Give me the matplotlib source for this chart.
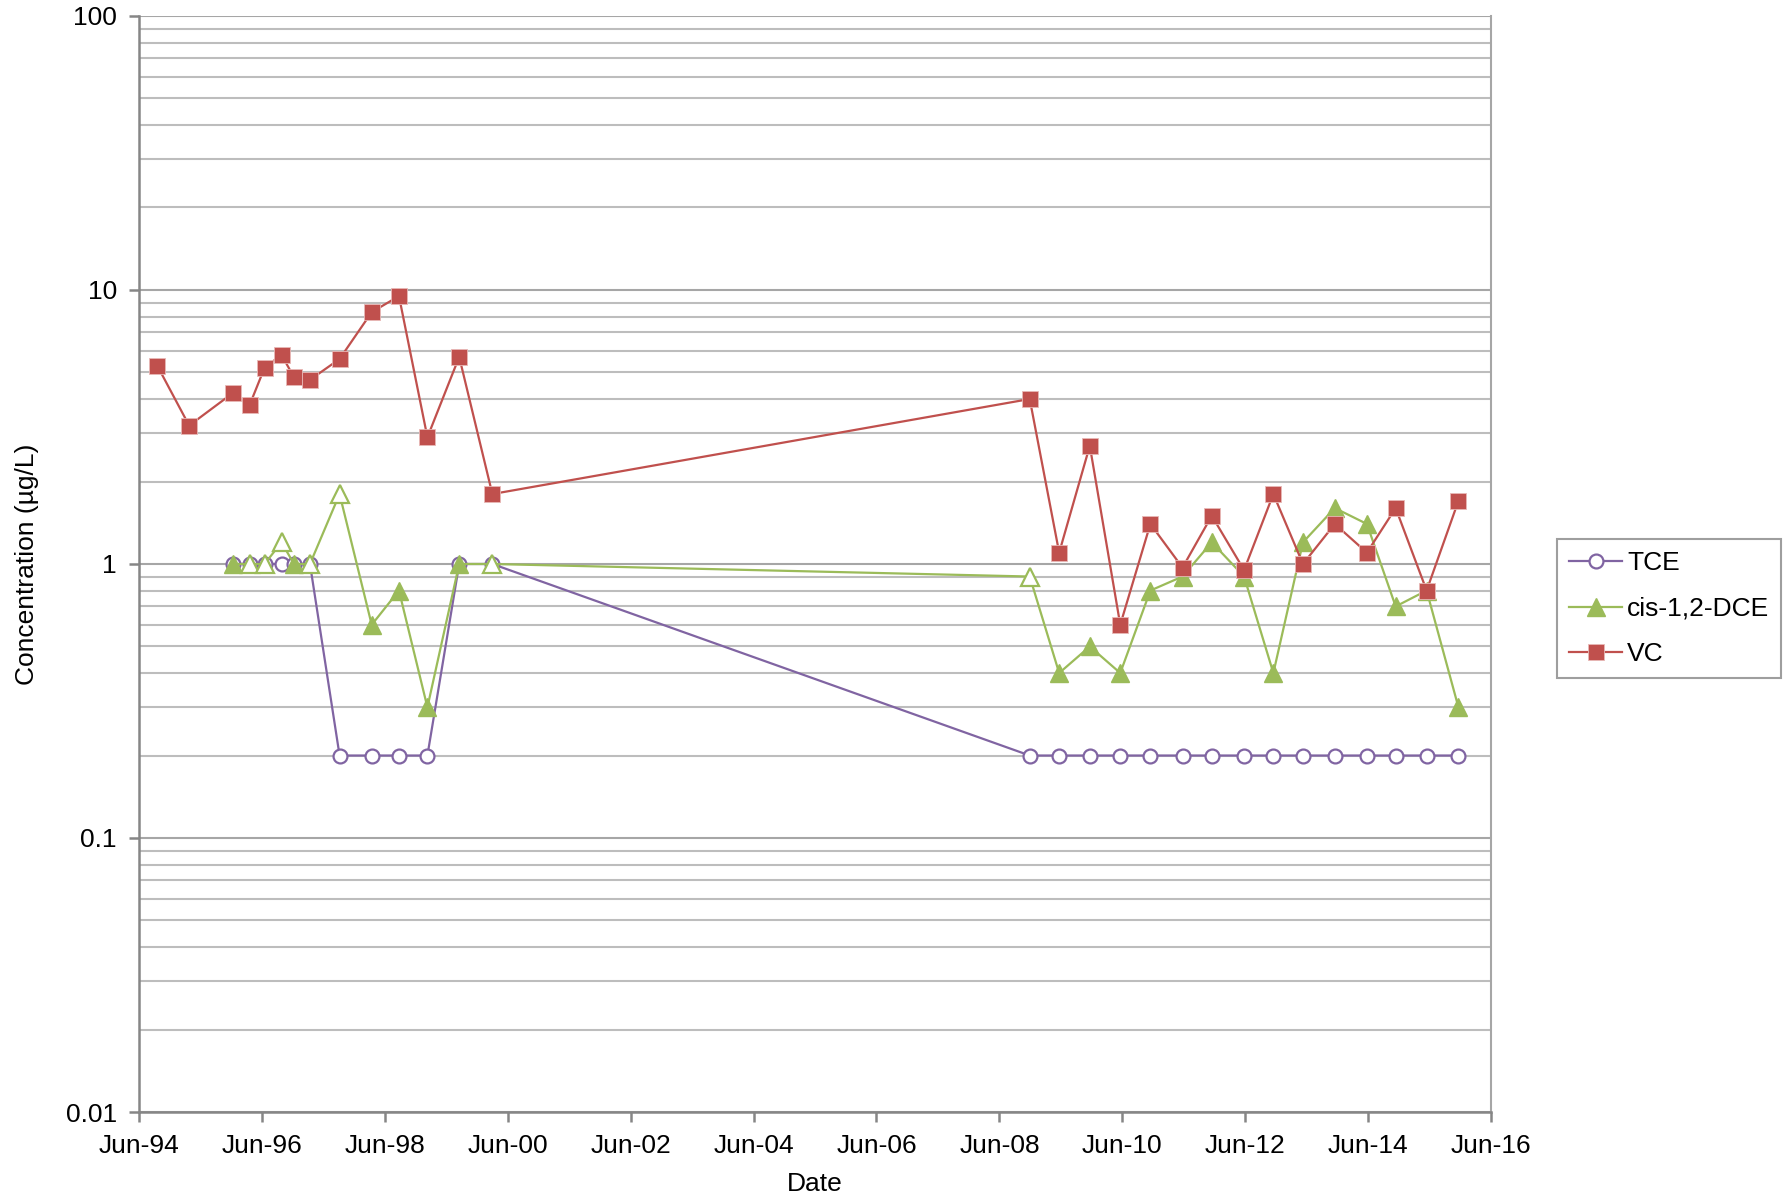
import matplotlib
matplotlib.use("Agg")
import matplotlib.pyplot as plt
import matplotlib.dates as mdates
from matplotlib.ticker import FixedLocator, FuncFormatter, LogLocator, NullFormatter
from datetime import datetime

plt.rcParams['font.family'] = ['Liberation Sans', 'DejaVu Sans']

# sample dates
vc_dates = ["1994-09-17", "1995-03-26", "1995-12-09", "1996-03-19", "1996-06-16",
            "1996-09-25", "1996-12-08", "1997-03-13", "1997-09-05", "1998-03-15",
            "1998-08-24", "1999-02-09", "1999-08-17", "2000-03-01", "2008-11-28",
            "2009-05-22", "2009-11-20", "2010-05-20", "2010-11-15", "2011-05-25",
            "2011-11-15", "2012-05-25", "2012-11-15", "2013-05-10", "2013-11-15",
            "2014-05-25", "2014-11-12", "2015-05-15", "2015-11-20"]
vc = [5.3, 3.2, 4.2, 3.8, 5.2, 5.8, 4.8, 4.7, 5.6, 8.3, 9.5, 2.9, 5.7, 1.8,
      4.0, 1.1, 2.7, 0.6, 1.4, 0.97, 1.5, 0.95, 1.8, 1.0, 1.4, 1.1, 1.6, 0.8, 1.7]

# TCE and cis-1,2-DCE start at the third sampling event
other_dates = vc_dates[2:]
tce = [1, 1, 1, 1, 1, 1, 0.2, 0.2, 0.2, 0.2, 1, 1,
       0.2, 0.2, 0.2, 0.2, 0.2, 0.2, 0.2, 0.2, 0.2, 0.2, 0.2, 0.2, 0.2, 0.2, 0.2]
dce = [1, 1, 1, 1.2, 1, 1, 1.8, 0.6, 0.8, 0.3, 1, 1,
       0.9, 0.4, 0.5, 0.4, 0.8, 0.9, 1.2, 0.9, 0.4, 1.2, 1.6, 1.4, 0.7, 0.8, 0.3]
# True = detected (filled marker), False = non-detect (open marker)
dce_detect = [True, False, False, False, True, False, False, True, True, True, True, False,
              False, True, True, True, True, True, True, True, True, True, True, True, True, True, True]

y_ticks = [0.01, 0.1, 1, 10, 100]
x_ticks = [f"{y}-06-01" for y in range(1994, 2017, 2)]

purple = "#8064A2"
green = "#9BBB59"
red = "#C0504D"
grid_col = "#BDBDBD"
axis_col = "#868686"


def to_dt(lst):
    return [datetime.strptime(s, "%Y-%m-%d") for s in lst]


fig = plt.figure(figsize=(17.87, 12.01), dpi=100)
ax = fig.add_axes([0.0778, 0.0741, 0.7566, 0.9126])

vd = to_dt(vc_dates)
od = to_dt(other_dates)

ax.plot(od, tce, color=purple, lw=1.6, marker='o', ms=10, mfc='white',
        mec=purple, mew=1.6, label='TCE', zorder=3)

ax.plot(od, dce, color=green, lw=1.6, zorder=3)
det_x = [d for d, f in zip(od, dce_detect) if f]
det_y = [v for v, f in zip(dce, dce_detect) if f]
nd_x = [d for d, f in zip(od, dce_detect) if not f]
nd_y = [v for v, f in zip(dce, dce_detect) if not f]
ax.plot(det_x, det_y, ls='none', marker='^', ms=13, color=green, zorder=4)
ax.plot(nd_x, nd_y, ls='none', marker='^', ms=13, mfc='white', mec=green, mew=1.6, zorder=4)
ax.plot([], [], color=green, lw=1.6, marker='^', ms=13, label='cis-1,2-DCE')

ax.plot(vd, vc, color=red, lw=1.6, marker='s', ms=11.5, mec='#E8B8B6', mew=0.6,
        label='VC', zorder=5)

ax.set_yscale('log')
ax.set_ylim(0.01, 100)
ax.set_xlim(datetime(1994, 6, 1), datetime(2016, 6, 1))

ax.yaxis.set_major_locator(FixedLocator(y_ticks))
ax.yaxis.set_major_formatter(FuncFormatter(lambda v, p: f"{v:g}"))
ax.yaxis.set_minor_locator(LogLocator(base=10, subs=range(2, 10)))
ax.yaxis.set_minor_formatter(NullFormatter())

xt = to_dt(x_ticks)
ax.set_xticks(xt)
ax.xaxis.set_major_formatter(mdates.DateFormatter('%b-%y'))

ax.grid(True, which='major', axis='y', color='#A6A6A6', lw=1.5, zorder=0)
ax.grid(True, which='minor', axis='y', color=grid_col, lw=1.5, zorder=0)
ax.set_axisbelow(True)

for s in ['left', 'bottom']:
    ax.spines[s].set_color(axis_col)
    ax.spines[s].set_linewidth(1.8)
ax.spines['top'].set_visible(False)
ax.spines['right'].set_color('#A6A6A6')
ax.spines['right'].set_linewidth(1.5)

ax.tick_params(axis='both', which='major', labelsize=19, color=axis_col,
               width=1.8, length=7, direction='out')
ax.tick_params(axis='x', which='major', pad=9)
ax.tick_params(axis='y', which='major', pad=9)
ax.tick_params(axis='y', which='minor', length=0)

ax.set_xlabel('Date', fontsize=19, labelpad=10)
ax.set_ylabel('Concentration (µg/L)', fontsize=19, labelpad=19)

leg = ax.legend(loc='upper left', bbox_to_anchor=(0.8715, 0.551),
                bbox_transform=fig.transFigure, borderaxespad=0,
                fontsize=19, frameon=True, fancybox=False,
                handlelength=2.0, labelspacing=0.82, borderpad=0.45,
                handletextpad=0.2)
leg.get_frame().set_edgecolor(axis_col)
leg.get_frame().set_linewidth(1.5)

fig.savefig('out.png', dpi=100)
